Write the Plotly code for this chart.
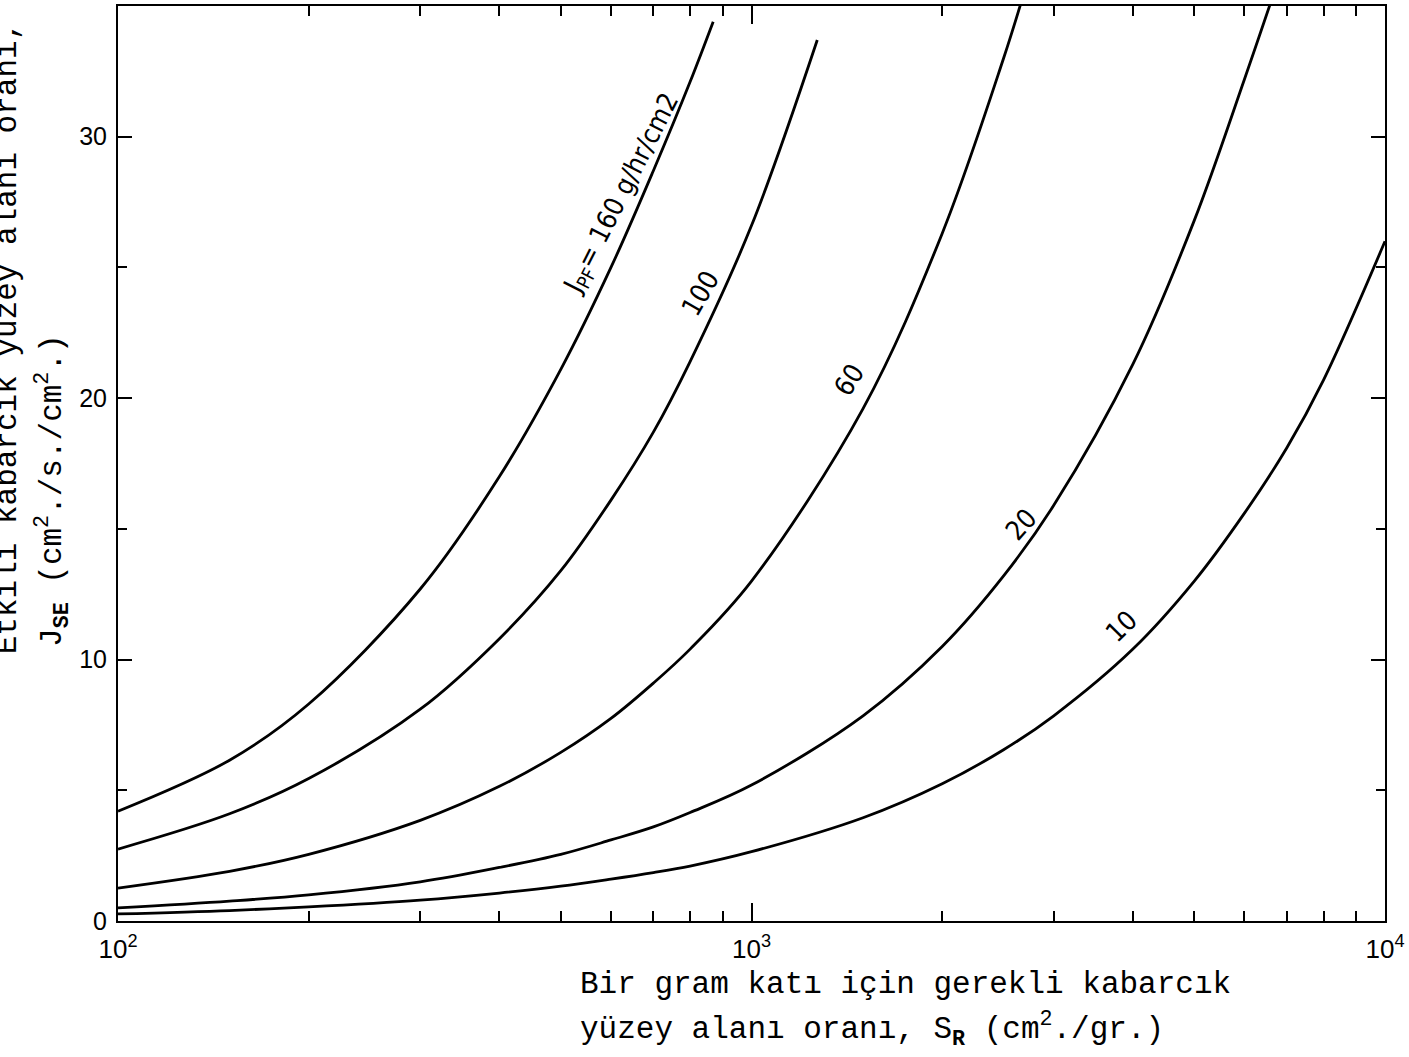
import plotly.graph_objects as go

# Required bubble surface ratio S_R (cm2/g) and effective bubble surface flux J_SE,
# one curve per solids flux J_PF (g/hr/cm2)
sr_160 = [100, 150, 200, 300, 400, 500, 600, 700, 800, 870]
js_160 = [4.2, 6.15, 8.3, 12.7, 17.0, 21.1, 25.0, 28.7, 32.1, 34.4]

sr_100 = [100, 150, 200, 300, 400, 500, 600, 700, 800, 1000, 1270]
js_100 = [2.75, 4.1, 5.45, 8.1, 10.8, 13.4, 16.1, 18.7, 21.4, 26.6, 33.7]

sr_60 = [100, 150, 200, 300, 400, 500, 600, 700, 800, 1000, 1500, 2000, 2500, 2700]
js_60 = [1.26, 1.9, 2.55, 3.85, 5.15, 6.45, 7.75, 9.1, 10.4, 13.0, 19.6, 26.3, 33.0, 35.6]

sr_20 = [100, 150, 200, 300, 400, 500, 600, 700, 800, 1000, 1500, 2000, 2500,
         3000, 4000, 5000, 6000, 6700]
js_20 = [0.5, 0.76, 1.0, 1.5, 2.05, 2.55, 3.1, 3.6, 4.15, 5.2, 7.85, 10.5, 13.2,
         15.9, 21.3, 26.8, 32.2, 35.6]

sr_10 = [100, 150, 200, 300, 400, 500, 600, 700, 800, 1000, 1500, 2000, 2500,
         3000, 4000, 5000, 6000, 7000, 8000, 10000]
js_10 = [0.27, 0.4, 0.54, 0.8, 1.07, 1.33, 1.6, 1.85, 2.1, 2.65, 3.95, 5.25, 6.55,
         7.85, 10.4, 13.0, 15.6, 18.1, 20.7, 26.0]

curves = [
    (sr_160, js_160),
    (sr_100, js_100),
    (sr_60, js_60),
    (sr_20, js_20),
    (sr_10, js_10),
]

x_major = [100, 1000, 10000]
x_major_text = ["10<sup>2</sup>", "10<sup>3</sup>", "10<sup>4</sup>"]
x_minor = [200, 300, 400, 500, 600, 700, 800, 900,
           2000, 3000, 4000, 5000, 6000, 7000, 8000, 9000]
y_major = [0, 10, 20, 30]
y_minor = [5, 15, 25]

W, H = 1409, 1057
L, R, T, B = 118, 24, 4, 136
PW, PH = W - L - R, H - T - B

MONO = "Liberation Mono, DejaVu Sans Mono, monospace"
NARROW = "Liberation Sans Narrow, DejaVu Sans Condensed, Arial Narrow, sans-serif"
SANS = "Liberation Sans, Arial, sans-serif"


def px(x, y):
    """Page pixel position -> paper coordinates of the plotting area."""
    return (x - L) / PW, (H - B - y) / PH


fig = go.Figure()
for sr, js in curves:
    fig.add_trace(go.Scatter(
        x=sr, y=js, mode="lines",
        line=dict(color="black", width=2.8, shape="spline", smoothing=1.0),
        hoverinfo="skip", showlegend=False,
    ))

annotations = []

# curve labels drawn along each line
for text, (cx, cy), ang in [
    ("J<sub>PF</sub>= 160 g/hr/cm2", (622, 193), -63),
    ("100", (700, 292), -60),
    ("60", (849, 378), -58),
    ("20", (1021, 524), -48),
    ("10", (1121, 626), -45),
]:
    ax, ay = px(cx, cy)
    annotations.append(dict(
        text=text, x=ax, y=ay, xref="paper", yref="paper",
        xanchor="center", yanchor="middle", textangle=ang, showarrow=False,
        font=dict(family=NARROW, size=27, color="black"),
    ))

# x-axis title (two lines)
for text, cy in [
    ("Bir gram katı için gerekli kabarcık", 985),
    ("yüzey alanı oranı, S<sub><b>R</b></sub> (cm<sup>2</sup>./gr.)", 1030),
]:
    ax, ay = px(578, cy)
    annotations.append(dict(
        text=text, x=ax, y=ay, xref="paper", yref="paper",
        xanchor="left", yanchor="middle", showarrow=False,
        font=dict(family=MONO, size=31, color="black"),
    ))

# y-axis title (two rotated lines)
for text, (cx, cy) in [
    ("Etkili kabarcık yüzey alanı oranı,", (7, 337)),
    ("J<sub><b>SE</b></sub> (cm<sup>2</sup>./s./cm<sup>2</sup>.)", (53, 490)),
]:
    ax, ay = px(cx, cy)
    annotations.append(dict(
        text=text, x=ax, y=ay, xref="paper", yref="paper",
        xanchor="center", yanchor="middle", textangle=-90, showarrow=False,
        font=dict(family=MONO, size=31, color="black"),
    ))

fig.update_layout(
    width=W, height=H, autosize=False,
    margin=dict(l=L, r=R, t=T, b=B),
    paper_bgcolor="white", plot_bgcolor="white",
    font=dict(family=SANS, color="black"),
    annotations=annotations,
    xaxis=dict(
        type="log", range=[2, 4],
        showline=True, linecolor="black", linewidth=2, mirror="ticks",
        ticks="inside", ticklen=18, tickwidth=2, tickcolor="black",
        tickvals=x_major, ticktext=x_major_text,
        tickfont=dict(size=26, family=SANS),
        ticklabelstandoff=4,
        showgrid=False, zeroline=False,
        minor=dict(ticks="inside", ticklen=10, tickwidth=2, tickcolor="black",
                   tickvals=x_minor, showgrid=False),
    ),
    yaxis=dict(
        range=[0, 35],
        showline=True, linecolor="black", linewidth=2, mirror="ticks",
        ticks="inside", ticklen=14, tickwidth=2, tickcolor="black",
        tickvals=y_major, ticktext=[str(v) for v in y_major],
        tickfont=dict(size=25, family=SANS),
        ticklabelstandoff=4,
        showgrid=False, zeroline=False,
        minor=dict(ticks="inside", ticklen=9, tickwidth=2, tickcolor="black",
                   tickvals=y_minor, showgrid=False),
    ),
)

fig.write_html("out.html")
